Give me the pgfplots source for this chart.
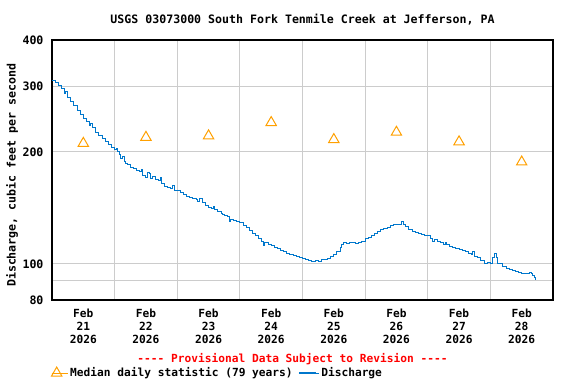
\documentclass[border=0pt]{standalone}
\usepackage{fontspec}
\setmainfont{DejaVu Sans Mono}
\usepackage{pgfplots}
\pgfplotsset{compat=1.18}
\definecolor{medorange}{RGB}{255,160,0}
\definecolor{qblue}{RGB}{0,119,204}
\definecolor{gridgray}{RGB}{204,204,204}
\newcommand{\ff}{\fontsize{11.6bp}{13bp}\selectfont\bfseries}
\newcommand{\fs}{\fontsize{11.2bp}{13bp}\selectfont\bfseries}
\newcommand{\dd}{-\kern0pt-\kern0pt-\kern0pt-}
\pgfplotsset{
  medlegend/.style={legend image code/.code={\path (0bp,0bp) -- (16bp,0bp); \draw[##1] plot coordinates {(5bp,0bp)};}},
  linelegend/.style={legend image code/.code={\path (0bp,0bp) -- (20bp,0bp); \draw[qblue, line width=1.2bp] (0bp,0bp) -- (17bp,0bp);}},
}
\begin{document}
\begin{tikzpicture}[x=1bp,y=1bp]
\useasboundingbox (0,0) rectangle (576,384);
\begin{axis}[
  at={(52bp,84bp)}, anchor=south west,
  scale only axis, width=501bp, height=260bp,
  ymode=log, ymin=80, ymax=400,
  xmin=0, xmax=8,
  ytick={80,90,100,200,300,400},
  yticklabels={80,,100,200,300,400},
  ymajorgrids,
  xtick={0.5,1.5,2.5,3.5,4.5,5.5,6.5,7.5},
  xticklabels={{Feb\\21\\2026},{Feb\\22\\2026},{Feb\\23\\2026},{Feb\\24\\2026},{Feb\\25\\2026},{Feb\\26\\2026},{Feb\\27\\2026},{Feb\\28\\2026}},
  minor xtick={1,2,3,4,5,6,7},
  xminorgrids,
  xtick pos=left, ytick pos=left,
  major tick length=0pt,
  minor tick length=3bp,
  minor tick style={gridgray, line width=1bp},
  grid style={gridgray, line width=1bp},
  axis line style={black, line width=1.2bp},
  xticklabel style={align=center, font=\fs, yshift=-5bp},
  yticklabel style={font=\ff, xshift=-5bp},
  /pgf/number format/assume math mode=true,
  ylabel={Discharge, cubic feet per second},
  ylabel style={font=\ff, anchor=center, at={(axis description cs:-0.0798,0.48)}},
  legend style={at={(axis description cs:-0.002,-0.281)}, anchor=west, draw=none, fill=none, font=\fs, inner sep=0pt,
    /tikz/every even column/.append style={column sep=3.5bp}},
  legend columns=2,
  legend cell align=left,
]
\addplot[only marks, mark=triangle, mark size=6pt, draw=medorange, line width=1bp, medlegend]
  coordinates {
  (0.5,211) (1.5,219) (2.5,221) (3.5,240) (4.5,216) (5.5,226) (6.5,213) (7.5,188)
  };
\addlegendentry{Median daily statistic (79 years)}
\addplot[const plot, qblue, line width=1bp, mark=none, linelegend]
  coordinates {
  (0.00,312) (0.05,308) (0.10,301) (0.15,296) (0.20,288) (0.22,290) (0.25,281) (0.30,273)
  (0.35,266) (0.40,258) (0.45,252) (0.50,246) (0.55,241) (0.60,236) (0.62,238) (0.65,232)
  (0.70,226) (0.75,222) (0.80,218) (0.85,213) (0.90,210) (0.95,206) (1.00,203)
  (1.03,204) (1.05,200) (1.08,197) (1.10,192) (1.12,194) (1.15,189) (1.18,186)
  (1.20,185) (1.25,182) (1.30,180) (1.35,178) (1.40,177) (1.43,179) (1.45,173)
  (1.50,171) (1.53,176) (1.55,175) (1.58,170) (1.60,172) (1.65,169) (1.70,168)
  (1.73,171) (1.75,165) (1.80,162) (1.85,161) (1.90,160) (1.93,163) (1.95,158)
  (2.00,158) (2.05,156) (2.10,154) (2.15,152) (2.20,151) (2.25,150) (2.30,149)
  (2.33,147) (2.36,150) (2.40,146) (2.45,144) (2.50,142) (2.55,141) (2.58,143) (2.60,140)
  (2.65,138) (2.70,137) (2.72,136) (2.75,135) (2.80,134) (2.83,130) (2.85,132) (2.90,131) (2.95,130)
  (3.00,129) (3.05,127) (3.10,125) (3.15,123) (3.20,121) (3.25,119) (3.30,117)
  (3.35,115) (3.37,112) (3.40,114) (3.45,113) (3.50,112) (3.55,111) (3.60,110) (3.65,109)
  (3.70,108) (3.75,107) (3.80,106) (3.85,105.5) (3.90,105) (3.95,104) (4.00,103.5)
  (4.05,102.5) (4.10,102) (4.15,101.5) (4.20,102) (4.25,101.5) (4.30,102.5)
  (4.35,103) (4.40,103.5) (4.45,104.5) (4.50,106) (4.55,108) (4.60,111)
  (4.63,113) (4.65,114) (4.70,113.5) (4.75,114) (4.80,114) (4.85,113.5)
  (4.90,114) (4.95,115) (5.00,117) (5.05,118) (5.10,119.5) (5.15,121)
  (5.20,122) (5.25,123.5) (5.30,124.5) (5.35,125.5) (5.40,126.5) (5.45,127.5)
  (5.50,127.5) (5.55,128) (5.58,130) (5.62,128) (5.65,126) (5.70,124)
  (5.75,122.5) (5.80,121.5) (5.85,121) (5.90,120) (5.95,119.5) (6.00,119)
  (6.05,117) (6.08,115) (6.10,116) (6.15,115) (6.20,114) (6.25,113) (6.28,114) (6.30,112.5)
  (6.35,111.5) (6.40,111) (6.45,110) (6.50,109.5) (6.55,108.5) (6.60,108)
  (6.65,107) (6.70,106) (6.72,108) (6.75,105) (6.80,104) (6.85,102) (6.90,100.3)
  (6.95,101) (7.00,100.5) (7.03,104) (7.06,107) (7.09,104) (7.11,100.5)
  (7.15,100) (7.20,98.5) (7.25,97.5) (7.30,96.5) (7.35,96) (7.40,95.5)
  (7.45,95) (7.50,94.5) (7.55,94) (7.60,94) (7.63,95) (7.65,94.5)
  (7.68,93) (7.70,92) (7.72,90.8)
  };
\addlegendentry{Discharge}
\end{axis}
\node[font=\ff, anchor=base] at (302.5,360.5) {USGS 03073000 South Fork Tenmile Creek at Jefferson, PA};
\node[font=\fs, text=red, anchor=base] at (292.5,22) {\dd{} Provisional Data Subject to Revision \dd};
\end{tikzpicture}
\end{document}
